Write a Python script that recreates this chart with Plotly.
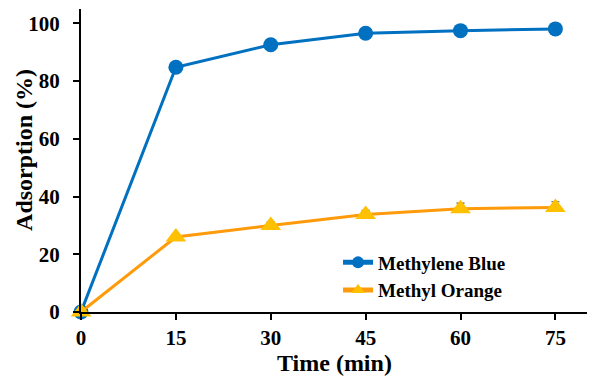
import plotly.graph_objects as go

time_min = [0, 15, 30, 45, 60, 75]
mb_values = [0, 84.8, 92.6, 96.6, 97.5, 98.1]
mb_errors = [0.5, 1.2, 1.5, 1.6, 1.5, 1.5]
mo_values = [0, 26.0, 30.0, 33.8, 35.8, 36.2]
mo_errors = [0.3, 1.2, 1.2, 1.4, 1.9, 2.0]
x_ticks = [0, 15, 30, 45, 60, 75]
y_ticks = [0, 20, 40, 60, 80, 100]

font_family = "Liberation Serif, Times New Roman, serif"

fig = go.Figure()
fig.add_trace(go.Scatter(
    x=time_min, y=mb_values, name="<b>Methylene Blue</b>", mode="lines+markers",
    line=dict(color="#0070C0", width=3),
    marker=dict(symbol="circle", size=15, color="#0070C0"),
    error_y=dict(type="data", array=mb_errors, color="#555555", thickness=1.2, width=4),
    cliponaxis=False,
))
fig.add_trace(go.Scatter(
    x=time_min, y=mo_values, name="<b>Methyl Orange</b>", mode="lines+markers",
    line=dict(color="#FF9A0A", width=3),
    marker=dict(symbol="triangle-up", size=18, color="#FFC000"),
    error_y=dict(type="data", array=mo_errors, arrayminus=[0]*len(mo_errors),
                 color="#555555", thickness=1.2, width=4),
    cliponaxis=False,
))

fig.update_layout(
    width=590, height=379,
    margin=dict(l=81, r=3, t=9, b=67),
    paper_bgcolor="white", plot_bgcolor="white",
    font=dict(family=font_family, color="black"),
    showlegend=True,
    legend=dict(
        x=0.508, y=0.226, xanchor="left", yanchor="top",
        font=dict(family=font_family, size=19, color="black"),
        bgcolor="rgba(0,0,0,0)", tracegroupgap=0, itemsizing="constant",
    ),
    xaxis=dict(
        range=[0, 80], tickvals=x_ticks, ticktext=[f"<b>{v}</b>" for v in x_ticks],
        showgrid=False, zeroline=False, showline=True, linecolor="black", linewidth=2,
        ticks="outside", ticklen=6, tickwidth=2, tickcolor="black", ticklabelstandoff=0,
        tickfont=dict(family=font_family, size=21, color="black"),
    ),
    yaxis=dict(
        range=[0, 105], tickvals=y_ticks, ticktext=[f"<b>{v}</b>" for v in y_ticks],
        showgrid=False, zeroline=False, showline=True, linecolor="black", linewidth=2,
        ticks="outside", ticklen=6, tickwidth=2, tickcolor="black", ticklabelstandoff=9,
        tickfont=dict(family=font_family, size=21, color="black"),
    ),
    annotations=[
        dict(text="<b>Adsorption (%)</b>", xref="paper", yref="paper", x=-0.1126, y=0.535,
             xanchor="center", yanchor="middle", textangle=-90, showarrow=False,
             font=dict(family=font_family, size=24, color="black")),
        dict(text="<b>Time (min)</b>", xref="paper", yref="paper", x=0.5, y=-0.168,
             xanchor="center", yanchor="middle", showarrow=False,
             font=dict(family=font_family, size=24, color="black")),
    ],
)

fig.write_html("out.html")
